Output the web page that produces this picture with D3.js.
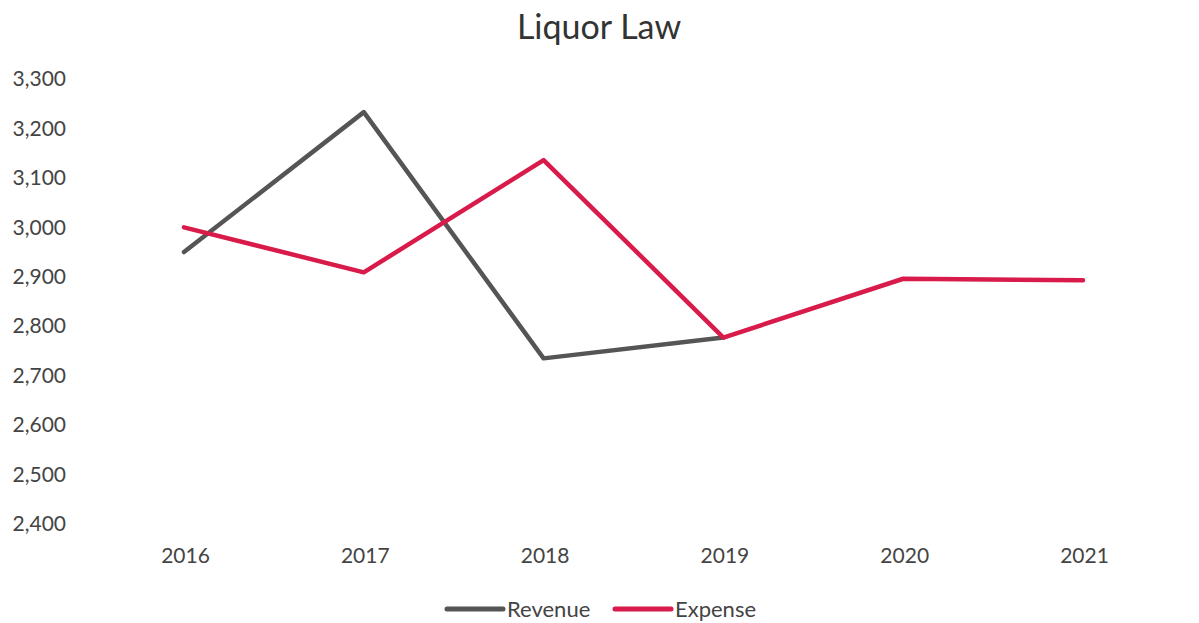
<!DOCTYPE html>
<html>
<head>
<meta charset="utf-8">
<script src="https://cdn.jsdelivr.net/npm/d3@7"></script>
<style>
  html, body { margin: 0; padding: 0; background: #fff; }
  svg { display: block; font-family: Lato, "Open Sans", sans-serif; }
</style>
</head>
<body>
<svg id="chart" width="1199" height="623"></svg>
<script>
const years = ["2016", "2017", "2018", "2019", "2020", "2021"];
const revenue = [2950, 3233, 2735, 2777, null, null];
const expense = [3000, 2909, 3136, 2777, 2896, 2893];
const yTicks = [2400, 2500, 2600, 2700, 2800, 2900, 3000, 3100, 3200, 3300];
const seriesNames = ["Revenue", "Expense"];
const seriesColors = ["#555555", "#d81b4a"];

const svg = d3.select("#chart");
const x = d3.scalePoint().domain(years).range([184, 1083]);
const y = d3.scaleLinear().domain([2400, 3300]).range([524, 79]);

svg.append("text")
  .attr("x", 599).attr("y", 39)
  .attr("text-anchor", "middle")
  .attr("font-size", 34)
  .attr("fill", "#333")
  .text("Liquor Law");

const yAxis = d3.axisLeft(y).tickValues(yTicks).tickFormat(d3.format(",")).tickSize(0).tickPadding(0);
const gy = svg.append("g").attr("transform", "translate(66,0)").call(yAxis);
gy.select(".domain").remove();
gy.selectAll("text").attr("font-size", 21).attr("fill", "#444").attr("font-family", "Lato, 'Open Sans', sans-serif");

const xAxis = d3.axisBottom(x).tickSize(0).tickPadding(0);
const gx = svg.append("g").attr("transform", "translate(1,548)").call(xAxis);
gx.select(".domain").remove();
gx.selectAll("text").attr("font-size", 21).attr("fill", "#444").attr("font-family", "Lato, 'Open Sans', sans-serif");

const line = d3.line()
  .defined(d => d.v !== null)
  .x(d => x(d.year))
  .y(d => y(d.v));

const data = [revenue, expense].map((vals, i) => ({
  name: seriesNames[i],
  color: seriesColors[i],
  pts: years.map((yr, j) => ({ year: yr, v: vals[j] }))
}));

svg.selectAll("path.series")
  .data(data)
  .join("path")
  .attr("class", "series")
  .attr("fill", "none")
  .attr("stroke", d => d.color)
  .attr("stroke-width", 4.5)
  .attr("stroke-linejoin", "round")
  .attr("stroke-linecap", "round")
  .attr("d", d => line(d.pts));

const legendX = [447, 615];
const lg = svg.selectAll("g.legend").data(data).join("g")
  .attr("class", "legend")
  .attr("transform", (d, i) => `translate(${legendX[i]},609)`);
lg.append("line")
  .attr("x1", 0).attr("x2", 56).attr("y1", 0).attr("y2", 0)
  .attr("stroke", d => d.color).attr("stroke-width", 5).attr("stroke-linecap", "round");
lg.append("text")
  .attr("x", 60).attr("y", 8)
  .attr("font-size", 22).attr("fill", "#444")
  .text(d => d.name);
</script>
</body>
</html>
